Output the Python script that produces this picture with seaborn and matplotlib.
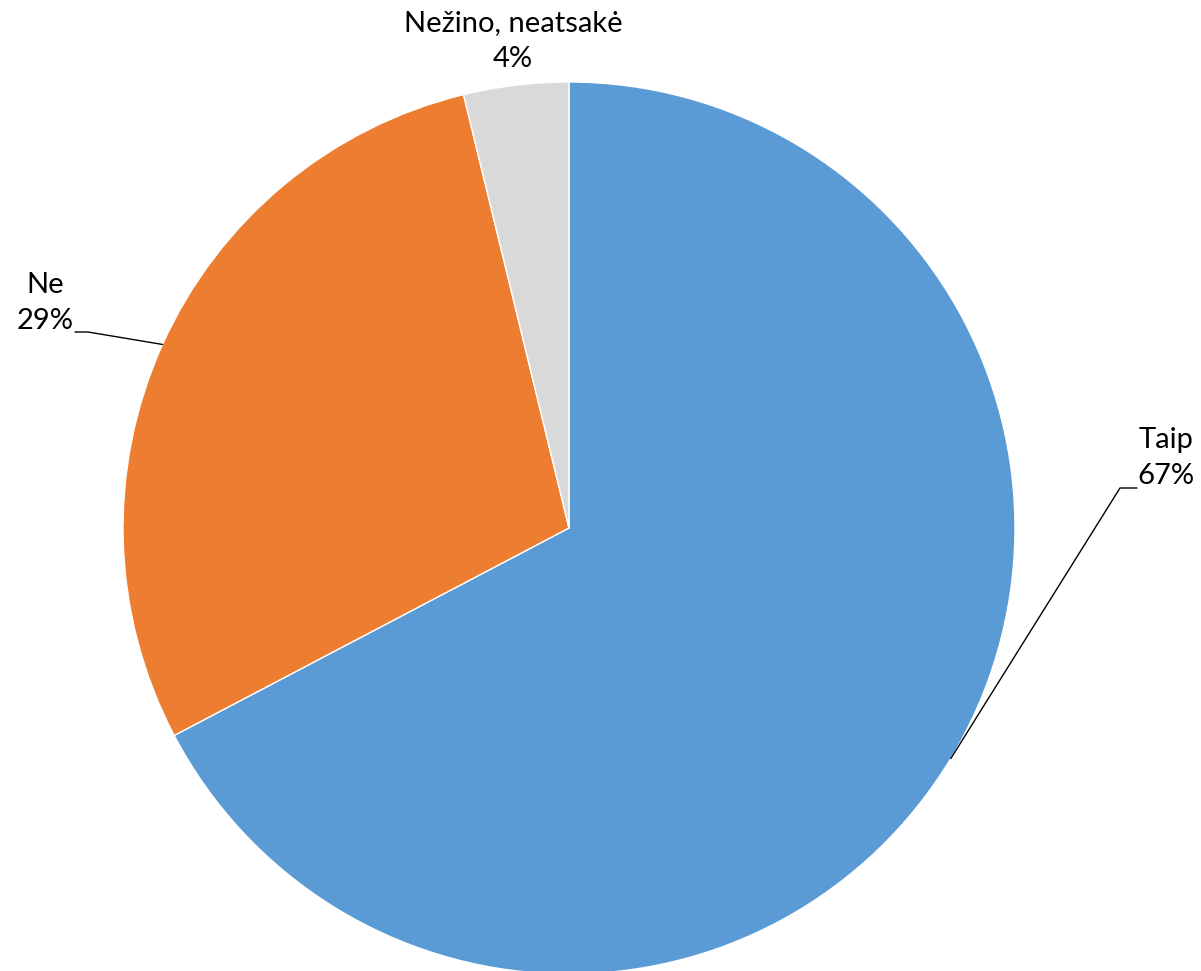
import numpy as np
import seaborn as sns
from matplotlib import pyplot as plt

labels = ['Taip', 'Ne', 'Nežino, neatsakė']
shares = [67.3, 28.9, 3.8]
colors = ['#5B9BD5', '#ED7D31', '#D9D9D9']

sns.set_style("white")
plt.rcParams['font.family'] = ['Lato', 'DejaVu Sans']

fig = plt.figure(figsize=(12.01, 9.71), dpi=100)
ax = fig.add_axes([0, 0, 1, 1])
ax.axis('off')

cx, cy, r = 569, 971 - 528, 446
wedges, _ = ax.pie(shares, colors=colors, startangle=90, counterclock=False,
                   center=(cx, cy), radius=r,
                   wedgeprops=dict(edgecolor='white', linewidth=1))
ax.set_xlim(0, 1201)
ax.set_ylim(0, 971)
ax.set_aspect('equal')

fs = 21
# label positions (text centres, in pixels from top-left)
text_pos = {
    'Taip': (1166, 458),
    'Ne': (45, 303),
    'Nežino, neatsakė': (513, 41),
}
# leader line elbows
elbows = {
    'Taip': [(1120, 488), (1137, 488)],
    'Ne': [(88, 332), (75, 332)],
}

for w, lab, val in zip(wedges, labels, shares):
    tx, ty = text_pos[lab]
    ax.text(tx, 971 - ty, f"{lab}\n{round(val)}%", ha='center', va='center',
            fontsize=fs, linespacing=1.45, color='black')
    if lab in elbows:
        mid = np.deg2rad((w.theta1 + w.theta2) / 2)
        ax_pt = (cx + r * np.cos(mid), cy + r * np.sin(mid))
        pts = [ax_pt] + [(x, 971 - y) for x, y in elbows[lab]]
        xs, ys = zip(*pts)
        ax.plot(xs, ys, color='black', lw=1)

fig.savefig('out.png', dpi=100)
